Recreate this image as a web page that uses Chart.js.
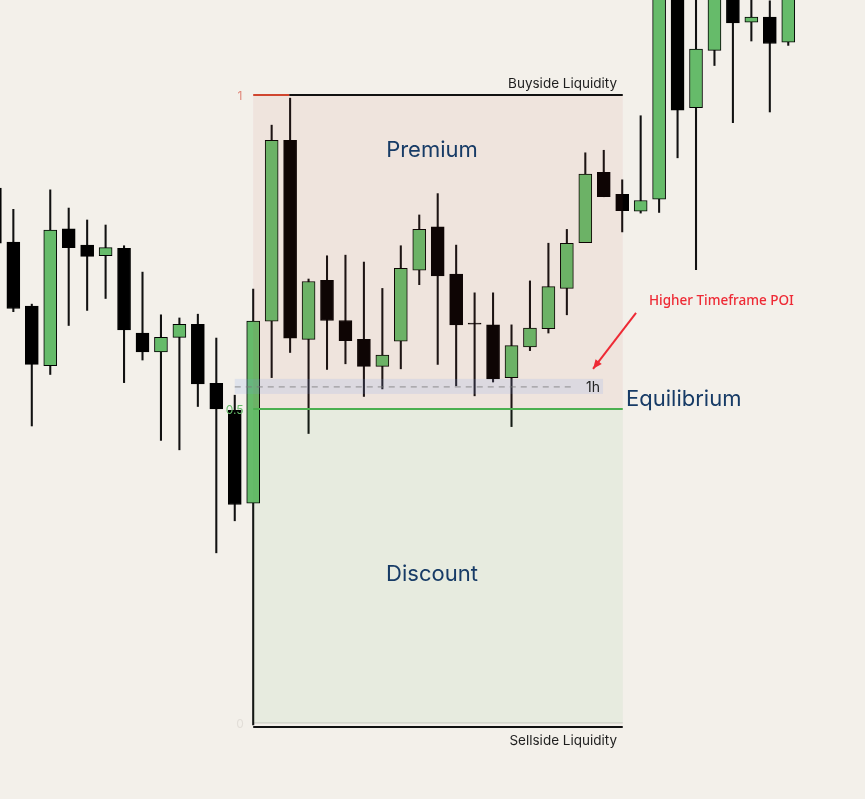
<!DOCTYPE html>
<html>
<head>
<meta charset="utf-8">
<script src="https://cdn.jsdelivr.net/npm/chart.js@4.4.1/dist/chart.umd.min.js"></script>
<style>
    html, body { margin: 0; padding: 0; background: #f3f0ea; overflow: hidden; }
    #wrap { width: 865px; height: 799px; position: relative; }
</style>
</head>
<body>
<div id="wrap"><canvas id="chart"></canvas></div>
<script>
// ─── Candle data (price in fib units: 0 = sellside low, 1 = buyside high) ─────
const opens  = [0.852, 0.766, 0.664, 0.569, 0.787, 0.761, 0.744, 0.756, 0.621, 0.591,
                0.614, 0.635, 0.541, 0.498, 0.350, 0.640, 0.928, 0.611, 0.705, 0.641,
                0.611, 0.568, 0.608, 0.721, 0.790, 0.715, 0.6368, 0.634, 0.550, 0.599,
                0.628, 0.692, 0.765, 0.877, 0.842, 0.815, 0.834, 1.190, 0.980, 1.071,
                1.170, 1.116, 1.124, 1.084];
const highs  = [0.880, 0.818, 0.667, 0.849, 0.820, 0.801, 0.793, 0.760, 0.718, 0.650,
                0.645, 0.651, 0.613, 0.522, 0.691, 0.952, 0.995, 0.707, 0.744, 0.745,
                0.734, 0.692, 0.760, 0.809, 0.843, 0.761, 0.685, 0.685, 0.634, 0.704,
                0.764, 0.786, 0.908, 0.912, 0.865, 0.967, 1.210, 1.220, 1.170, 1.200,
                1.190, 1.158, 1.150, 1.220];
const lows   = [0.740, 0.655, 0.473, 0.555, 0.633, 0.657, 0.676, 0.542, 0.578, 0.450,
                0.435, 0.504, 0.271, 0.322, -0.003, 0.550, 0.590, 0.461, 0.563, 0.572,
                0.520, 0.532, 0.564, 0.698, 0.571, 0.537, 0.521, 0.543, 0.472, 0.593,
                0.621, 0.650, 0.765, 0.838, 0.782, 0.812, 0.813, 0.900, 0.722, 1.047,
                0.956, 1.086, 0.973, 1.079];
const closes = [0.764, 0.660, 0.571, 0.785, 0.757, 0.743, 0.757, 0.626, 0.591, 0.614,
                0.635, 0.540, 0.500, 0.348, 0.640, 0.928, 0.613, 0.703, 0.641, 0.609,
                0.568, 0.586, 0.724, 0.786, 0.712, 0.634, 0.6352, 0.548, 0.601, 0.629,
                0.695, 0.764, 0.874, 0.838, 0.816, 0.832, 1.190, 0.976, 1.073, 1.167,
                1.115, 1.124, 1.082, 1.180];

// Fib levels and their labels
const fibLevels = [1, 0.5, 0];
const fibLabels = ['1', '0.5', '0'];

const BULL = '#66bb6a';
const BEAR = '#000000';

const bodies = opens.map((o, i) => ({ x: i, y: [o, closes[i]] }));
const wicks  = highs.map((h, i) => ({ x: i, y: [lows[i], h] }));
const bodyColors = opens.map((o, i) => closes[i] > o ? BULL : BEAR);

// ─── Overlay: zones, liquidity lines, labels ─────────────────────────────────
const overlayPlugin = {
    id: 'overlay',
    beforeDraw(chart) {
        const c = chart.ctx;
        c.save();
        c.fillStyle = '#f3f0ea';
        c.fillRect(0, 0, chart.width, chart.height);
        c.restore();
    },
    afterDatasetsDraw(chart) {
        const c = chart.ctx;
        const X = v => chart.scales.x.getPixelForValue(v);
        const Y = v => chart.scales.y.getPixelForValue(v);
        const zx0 = X(14), zx1 = X(34.03);

        c.save();
        // premium / discount zones
        c.fillStyle = 'rgba(200,70,50,0.07)';
        c.fillRect(zx0, Y(1), zx1 - zx0, Y(0.5) - Y(1));
        c.fillStyle = 'rgba(80,160,70,0.065)';
        c.fillRect(zx0, Y(0.5), zx1 - zx0, Y(0) - Y(0.5));

        // 1h POI band
        c.fillStyle = 'rgba(112,154,241,0.15)';
        c.fillRect(X(13), Y(0.548), X(32.96) - X(13), Y(0.524) - Y(0.548));
        c.strokeStyle = 'rgba(120,120,120,0.8)';
        c.lineWidth = 1;
        c.setLineDash([6, 5]);
        c.beginPath();
        c.moveTo(X(13), Y(0.536) + 0.5);
        c.lineTo(X(31.4), Y(0.536) + 0.5);
        c.stroke();
        c.setLineDash([]);

        // level 0 line (faint)
        c.strokeStyle = 'rgba(0,0,0,0.08)';
        c.lineWidth = 2;
        c.beginPath();
        c.moveTo(zx0, Y(0));
        c.lineTo(zx1, Y(0));
        c.stroke();

        // equilibrium line
        c.strokeStyle = '#4caf50';
        c.lineWidth = 2;
        c.beginPath();
        c.moveTo(zx0, Y(0.5));
        c.lineTo(zx1, Y(0.5));
        c.stroke();

        // buyside liquidity line
        c.strokeStyle = '#111';
        c.lineWidth = 2;
        c.beginPath();
        c.moveTo(X(15.95), Y(1));
        c.lineTo(zx1, Y(1));
        c.stroke();
        c.strokeStyle = '#d0462f';
        c.beginPath();
        c.moveTo(zx0, Y(1));
        c.lineTo(X(15.95), Y(1));
        c.stroke();

        // sellside liquidity line
        c.strokeStyle = '#111';
        c.beginPath();
        c.moveTo(zx0, Y(-0.0064));
        c.lineTo(zx1, Y(-0.0064));
        c.stroke();

        // fib level labels
        c.font = '12px Inter, "DejaVu Sans", sans-serif';
        c.textAlign = 'center';
        c.textBaseline = 'middle';
        const labelColors = ['#e0887a', '#66bb6a', '#e2ded8'];
        const labelX = [13.28, 12.99, 13.28];
        fibLevels.forEach((lv, i) => {
            c.fillStyle = labelColors[i];
            c.fillText(fibLabels[i], X(labelX[i]), Y(lv) + 1);
        });

        // liquidity captions
        c.fillStyle = '#1e1e1e';
        c.font = '13.5px Inter, sans-serif';
        c.textAlign = 'right';
        c.textBaseline = 'alphabetic';
        c.fillText('Buyside Liquidity', X(33.72), Y(1) - 7);
        c.fillText('Sellside Liquidity', X(33.72), Y(-0.0064) + 18);

        // 1h label
        c.fillStyle = '#222';
        c.font = '14px Inter, sans-serif';
        c.textBaseline = 'middle';
        c.fillText('1h', X(32.8), Y(0.536) + 1);

        // zone captions
        c.fillStyle = '#173b66';
        c.textAlign = 'center';
        c.font = '22px Inter, sans-serif';
        c.fillText('Premium', X(23.69), Y(0.912));
        c.fillText('Discount', X(23.69), Y(0.237));
        c.textAlign = 'left';
        c.font = '22px Inter, sans-serif';
        c.fillText('Equilibrium', X(34.21), Y(0.515));

        // POI note + arrow
        c.fillStyle = '#ee2a35';
        c.font = '500 13.5px "Noto Sans", sans-serif';
        c.fillText('Higher Timeframe POI', X(35.45), Y(0.672));

        const ax0 = X(34.75), ay0 = Y(0.653), ax1 = X(32.42), ay1 = Y(0.564);
        c.strokeStyle = '#ee2a35';
        c.lineWidth = 2;
        c.beginPath();
        c.moveTo(ax0, ay0);
        c.lineTo(ax1, ay1);
        c.stroke();
        const ang = Math.atan2(ay1 - ay0, ax1 - ax0);
        c.fillStyle = '#ee2a35';
        c.beginPath();
        c.moveTo(ax1, ay1);
        c.lineTo(ax1 - 10 * Math.cos(ang - 0.4), ay1 - 10 * Math.sin(ang - 0.4));
        c.lineTo(ax1 - 10 * Math.cos(ang + 0.4), ay1 - 10 * Math.sin(ang + 0.4));
        c.closePath();
        c.fill();
        c.restore();
    }
};

new Chart(document.getElementById('chart'), {
    type: 'bar',
    data: {
        datasets: [
            {
                label: 'wick',
                data: wicks,
                backgroundColor: '#111',
                barThickness: 1.4,
                order: 2
            },
            {
                label: 'body',
                data: bodies,
                backgroundColor: bodyColors,
                borderColor: '#000',
                borderWidth: 1,
                borderSkipped: false,
                barThickness: 13,
                order: 1
            }
        ]
    },
    options: {
        responsive: true,
        maintainAspectRatio: false,
        animation: false,
        layout: { padding: 0 },
        datasets: { bar: { grouped: false } },
        plugins: {
            legend: { display: false },
            tooltip: { enabled: false }
        },
        scales: {
            x: { type: 'linear', display: false, offset: false, min: 0.2764, max: 47.159 },
            y: { type: 'linear', display: false, min: -0.121, max: 1.1513 }
        }
    },
    plugins: [overlayPlugin]
});
</script>
</body>
</html>
